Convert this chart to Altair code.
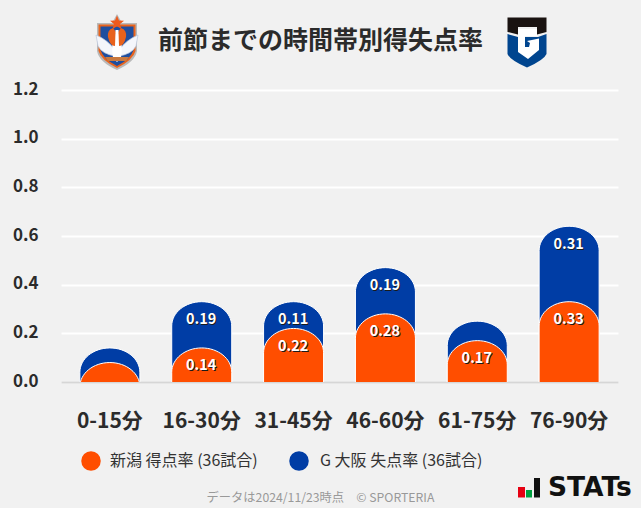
import base64
import altair as alt
import pandas as pd

periods = ["0-15分", "16-30分", "31-45分", "46-60分", "61-75分", "76-90分"]
niigata_for = [0.08, 0.14, 0.22, 0.28, 0.17, 0.33]
gamba_against = [0.06, 0.19, 0.11, 0.19, 0.08, 0.31]
niigata_labels = ["", "0.14", "0.22", "0.28", "0.17", "0.33"]
gamba_labels = ["", "0.19", "0.11", "0.19", "", "0.31"]
y_ticks = [0, 0.2, 0.4, 0.6, 0.8, 1.0, 1.2]

TITLE = "前節までの時間帯別得失点率"
LEGEND_A = "新潟 得点率 (36試合)"
LEGEND_B = "G 大阪 失点率 (36試合)"
FOOTER = "データは2024/11/23時点　© SPORTERIA"
BRAND = "STATs"

ORANGE = "#ff4e00"
BLUE = "#003da5"
BG = "#f1f1f1"
INK = "#2b2b2b"
FONT = "Noto Sans CJK JP"

DOME = "M-1,0.81 A1,0.81 0 0 1 1,0.81 L1,30 L-1,30 Z"
DOME_SIZE = 3600

PX, PY, PW, PH = 61, 90, 557, 292


def px(v):
    return alt.value(v - PX)


def py(v):
    return alt.value(v - PY)


def uri(svg):
    return "data:image/svg+xml;base64," + base64.b64encode(svg.encode()).decode()


albirex_svg = """<svg xmlns="http://www.w3.org/2000/svg" viewBox="0 0 54 64" width="54" height="64">
<path d="M7,13 L22,13 L27,4 L32,13 L47,13 L47,41 Q45,52 27,60 Q9,52 7,41 Z" fill="#b9b9b9"/>
<path d="M8.5,14.5 H45.5 V41 Q43,50 27,58 Q11,50 8.5,41 Z" fill="#e8621c"/>
<path d="M10.5,16.5 H43.5 V40 Q41,49 27,56 Q13,49 10.5,40 Z" fill="#1f4e9e"/>
<path d="M27,5.5 L29,10.5 L34,10.8 L30,14 L31.5,19 L27,16.2 L22.5,19 L24,14 L20,10.8 L25,10.5 Z" fill="#ee5a1c"/>
<path d="M6,25 Q18,30 25,40 L25,46 Q12,44 8,36 Z" fill="#f4f6fb" stroke="#b9c6dc" stroke-width="0.7"/>
<path d="M48,25 Q36,30 29,40 L29,46 Q42,44 46,36 Z" fill="#f4f6fb" stroke="#b9c6dc" stroke-width="0.7"/>
<path d="M23,48 Q21,34 24,24 L30,24 Q33,34 31,48 L27,52 Z" fill="#ffffff"/>
<path d="M18,27 Q17,20 23,18 L26,22 L25,36 Q20,36 18,27 Z" fill="#e8621c"/>
<path d="M36,27 Q37,20 31,18 L28,22 L29,36 Q34,36 36,27 Z" fill="#e8621c"/>
<path d="M25.5,20 H28.5 V42 H25.5 Z" fill="#ffffff"/>
<path d="M15,47 H39 L36,51 H18 Z" fill="#c9793f"/>
</svg>"""

gamba_svg = """<svg xmlns="http://www.w3.org/2000/svg" viewBox="0 0 54 60" width="54" height="60">
<path d="M7.5,22 L18,25 L38,25 L46.5,22 L46.5,42 Q44,48 27,55.5 Q10,48 7.5,42 Z" fill="#00458f"/>
<path d="M18,17 H37 V24 L25,24 L25,35 L29,35 L30,31 L27,29 L39,26.5 L39,38 L28,47 L18,40 Z" fill="#ffffff"/>
<path d="M7.5,5.5 H46.5 V20 L37,22.5 V15 H18 V22.5 L7.5,20 Z" fill="#1a1311"/>
</svg>"""

df = pd.DataFrame({
    "period": periods,
    "niigata": niigata_for,
    "gamba": gamba_against,
    "nlab": niigata_labels,
    "glab": gamba_labels,
})
df["total"] = df["niigata"] + df["gamba"]

x = alt.X(
    "period:N",
    sort=periods,
    title=None,
    scale=alt.Scale(type="band", domain=periods, paddingInner=0, paddingOuter=0.032),
    axis=alt.Axis(
        labelAngle=0, labelFont=FONT, labelFontSize=21, labelFontWeight="bold",
        labelColor=INK, labelPadding=28, ticks=False, domainColor="#d6d6d6",
        domainWidth=2, grid=False,
    ),
)
y_scale = alt.Scale(domain=[0, 1.2], nice=False)


def yenc(field):
    return alt.Y(
        f"{field}:Q", scale=y_scale, title=None,
        axis=alt.Axis(
            values=y_ticks, format=".1f", labelFont=FONT, labelFontSize=17,
            labelFontWeight="bold", labelColor=INK, labelPadding=23, labelOffset=-1,
            ticks=False, domain=False, gridColor="#ffffff", gridWidth=2,
        ),
    )


base = alt.Chart(df)


def dome(field, color):
    return base.mark_point(
        shape=DOME, filled=True, fill=color, stroke="#ffffff", strokeWidth=1,
        opacity=1, size=DOME_SIZE, clip=True,
    ).encode(x=x, y=yenc(field))


def value_text(field, label, color, dx, dy):
    return base.mark_text(
        font=FONT, fontSize=14.5, fontWeight="bold", color=color, dx=dx, dy=dy,
        baseline="middle",
    ).encode(x=x, y=yenc(field), text=f"{label}:N")


def label(text, xpos, ypos, size, color, weight="normal", align="left", font=FONT):
    return alt.Chart(pd.DataFrame({"t": [text]})).mark_text(
        font=font, fontSize=size, fontWeight=weight, color=color, align=align,
        baseline="middle",
    ).encode(x=px(xpos), y=py(ypos), text="t:N")


def disc(xpos, ypos, color):
    return alt.Chart(pd.DataFrame({"k": [color]})).mark_point(
        shape="circle", filled=True, fill=color, opacity=1, size=380,
    ).encode(x=px(xpos), y=py(ypos))


def logo(svg, xpos, ypos, w, h):
    return alt.Chart(pd.DataFrame({"u": [uri(svg)]})).mark_image(
        width=w, height=h, align="left", baseline="top",
    ).encode(x=px(xpos), y=py(ypos), url="u:N")


def brand_bar(x0, x1, y0, y1, color):
    return alt.Chart(pd.DataFrame({"k": [color]})).mark_rect(color=color).encode(
        x=px(x0), x2=px(x1), y=py(y0), y2=py(y1)
    )


chart = alt.layer(
    dome("total", BLUE),
    dome("niigata", ORANGE),
    value_text("total", "glab", "#1a1a1a", 0.5, 19.5),
    value_text("total", "glab", "#ffffff", -0.5, 18.5),
    value_text("niigata", "nlab", "#1a1a1a", 0.5, 19.5),
    value_text("niigata", "nlab", "#ffffff", -0.5, 18.5),
    label(TITLE, 320.5, 41, 25, INK, "bold", "center"),
    logo(albirex_svg, 90, 10, 54, 64),
    logo(gamba_svg, 500, 12, 54, 60),
    disc(91, 461, ORANGE),
    label(LEGEND_A, 110, 461, 16, "#333333"),
    disc(299, 461, BLUE),
    label(LEGEND_B, 320, 461, 16, "#333333"),
    label(FOOTER, 320.5, 497.5, 12.25, "#999999", "normal", "center"),
    brand_bar(518, 525, 487, 497.5, "#e60012"),
    brand_bar(526, 532, 490, 497.5, "#00a040"),
    brand_bar(534, 540, 478, 497.5, "#111111"),
    label(BRAND, 548, 488, 26.5, "#111111", "bold", "left", "DejaVu Sans"),
).properties(
    width=PW,
    height=PH,
    background=BG,
    padding={"left": PX - 8, "top": PY - 8, "right": 641 - PX - PW, "bottom": 508 - PY - PH},
    autosize=alt.AutoSizeParams(type="none"),
).configure_view(stroke=None)

chart.save(
    "out.html",
    embed_options={
        "renderer": "svg",
        "actions": False,
        "defaultStyle": f"html,body{{background:{BG};overflow:hidden}}body{{margin:8px 0 0 8px;height:500px}}",
    },
)
